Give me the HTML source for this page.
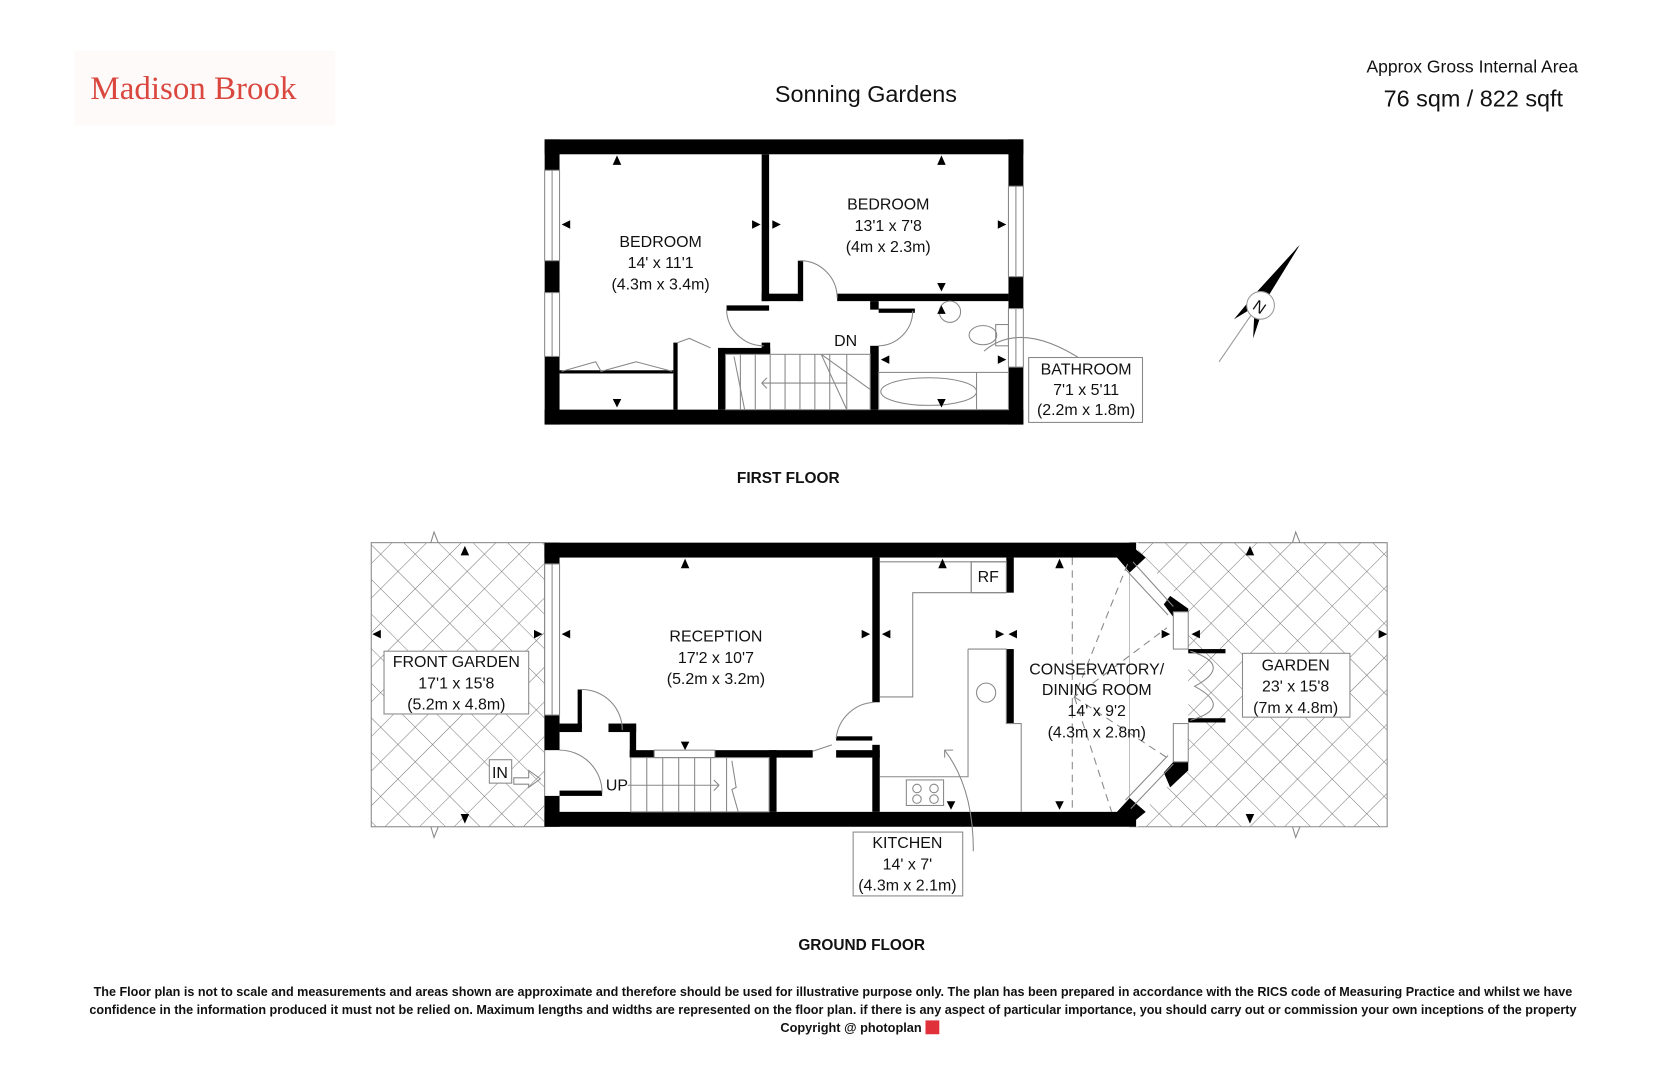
<!DOCTYPE html>
<html><head><meta charset="utf-8"><style>
html,body{margin:0;padding:0;background:#fff;}
svg{display:block}
text{font-family:"Liberation Sans",Arial,sans-serif;fill:#111}
</style></head><body>
<svg width="1668" height="1080" viewBox="0 0 1568 1015" preserveAspectRatio="none" xmlns="http://www.w3.org/2000/svg">
<defs>
<pattern id="h" width="23" height="23" patternUnits="userSpaceOnUse" patternTransform="rotate(45)">
<path d="M0 0H23M0 0V23" stroke="#777" stroke-width="1" fill="none"/>
</pattern>
</defs>
<rect width="1568" height="1015" fill="#fff"/>
<!-- header -->
<rect x="70" y="48" width="245" height="70" fill="#fefafa"/>
<text x="85" y="93" style="font-family:'Liberation Serif',serif;font-size:31px;fill:#d9473f">Madison Brook</text>
<text x="814" y="96" text-anchor="middle" style="font-size:22px">Sonning Gardens</text>
<text x="1384" y="68" text-anchor="middle" style="font-size:16.5px">Approx Gross Internal Area</text>
<text x="1385" y="100" text-anchor="middle" style="font-size:22px">76 sqm / 822 sqft</text>

<!-- compass -->
<g>
<line x1="1146" y1="340" x2="1220" y2="232" stroke="#999" stroke-width="1"/>
<polygon points="1222,230 1190,282 1180,276" fill="#000"/>
<polygon points="1160,300 1190,282 1180,276" fill="#000"/>
<polygon points="1178,318 1190,282 1180,276" fill="#000"/>
<circle cx="1185" cy="287" r="13" fill="#fff" stroke="#999"/>
<text x="1185" y="294" text-anchor="middle" transform="rotate(35 1185 287)" style="font-size:15px">N</text>
</g>

<!-- ===== FIRST FLOOR ===== -->
<g fill="#000">
<rect x="512" y="131" width="450" height="14"/>
<rect x="512" y="385" width="450" height="14"/>
<rect x="512" y="131" width="14" height="268"/>
<rect x="948" y="131" width="14" height="268"/>
</g>
<!-- windows -->
<g fill="#fff" stroke="#888" stroke-width="1">
<rect x="512" y="160" width="14" height="85"/>
<rect x="512" y="275" width="14" height="60"/>
<rect x="948" y="175" width="14" height="85"/>
<rect x="948" y="290" width="14" height="55"/>
</g>
<line x1="519" y1="160" x2="519" y2="245" stroke="#888"/>
<line x1="519" y1="275" x2="519" y2="335" stroke="#888"/>
<line x1="955" y1="175" x2="955" y2="260" stroke="#888"/>
<line x1="955" y1="290" x2="955" y2="345" stroke="#888"/>
<g fill="#000">
<rect x="716" y="145" width="7" height="138"/>
<rect x="716" y="276" width="37" height="7"/>
<rect x="750" y="245" width="5" height="38"/>
<rect x="787" y="276" width="161" height="7"/>
<rect x="683" y="287" width="40" height="5"/>
<rect x="716" y="322" width="8" height="11"/>
<rect x="675" y="327" width="49" height="6"/>
<rect x="675" y="327" width="7" height="58"/>
<rect x="633" y="322" width="4" height="63"/>
<rect x="526" y="348" width="107" height="3"/>
<rect x="818" y="283" width="8" height="8"/>
<rect x="818" y="325" width="8" height="60"/>
<rect x="826" y="290" width="34" height="4"/>
</g>
<g fill="none" stroke="#888" stroke-width="1">
<path d="M752 245 A35 35 0 0 1 787 280"/>
<path d="M683 290 A35 35 0 0 0 718 325"/>
<path d="M858 292 A33 33 0 0 1 826 325"/>
<path d="M528 349 L560 340 L565 349 L598 340 L632 349"/>
<path d="M637 322 L648 318 L668 327"/>
<rect x="682" y="333" width="136" height="52"/>
<path d="M696 333V385M710 333V385M724 333V385M738 333V385M752 333V385M766 333V385M780 333V385M796 333V385"/>
<path d="M716 360H796M716 360l5-5M716 360l5 5"/>
<path d="M772 333 L818 366M772 333 L796 385"/>
<path d="M690 335 L700 385"/>
<rect x="826" y="350" width="122" height="35"/>
<line x1="918" y1="350" x2="918" y2="385"/>
<ellipse cx="873" cy="368" rx="45" ry="13"/>
<circle cx="893" cy="293" r="10"/>
<ellipse cx="924" cy="315" rx="13" ry="9"/>
<rect x="936" y="305" width="12" height="20"/>
<path d="M925 330 Q960 300 1020 340"/>
</g>
<g fill="#000">
<polygon points="576,155 584,155 580,146"/><polygon points="881,155 889,155 885,146"/>
<polygon points="536,207 536,215 528,211"/><polygon points="707,207 707,215 715,211"/><polygon points="726,207 726,215 734,211"/><polygon points="938,207 938,215 946,211"/>
<polygon points="881,266 889,266 885,274"/><polygon points="881,295 889,295 885,287"/>
<polygon points="576,375 584,375 580,383"/><polygon points="881,375 889,375 885,383"/>
<polygon points="836,334 836,342 828,338"/><polygon points="938,334 938,342 946,338"/>
</g>
<g text-anchor="middle" style="font-size:15px">
<text x="621" y="232">BEDROOM</text><text x="621" y="252">14' x 11'1</text><text x="621" y="272">(4.3m x 3.4m)</text>
<text x="835" y="197">BEDROOM</text><text x="835" y="217">13'1 x 7'8</text><text x="835" y="237">(4m x 2.3m)</text>
<text x="795" y="325">DN</text>
</g>
<rect x="967" y="336" width="107" height="61" fill="#fff" stroke="#888"/>
<g text-anchor="middle" style="font-size:15px">
<text x="1021" y="352">BATHROOM</text><text x="1021" y="371">7'1 x 5'11</text><text x="1021" y="390">(2.2m x 1.8m)</text>
</g>
<text x="741" y="454" text-anchor="middle" style="font-size:14.5px;font-weight:bold">FIRST FLOOR</text>

<!-- ===== GROUND FLOOR ===== -->
<rect x="349" y="510" width="163" height="267" fill="url(#h)" stroke="#888"/>
<path d="M1062 510 H1304 V777 H1062 Z" fill="url(#h)" stroke="#888"/>
<path d="M1062 510 L1062 524 L1103 572 L1103 716 L1062 763 Z" fill="#fff"/>
<path d="M1060 510 L1117 570 L1117 720 L1060 777 L1070 777 L1070 510Z" fill="#fff"/>
<g fill="#000">
<rect x="512" y="510" width="556" height="14"/>
<rect x="512" y="763" width="556" height="14"/>
<polygon points="1060,510 1077,524 1062,538 1050,524"/>
<polygon points="1100,560 1117,572 1117,580 1103,580 1094,568"/>
<polygon points="1103,716 1117,716 1117,724 1100,740 1094,726"/>
<polygon points="1060,777 1077,763 1062,750 1050,763"/>
<rect x="512" y="510" width="14" height="20"/>
<rect x="512" y="672" width="14" height="33"/>
<rect x="512" y="748" width="14" height="29"/>
<rect x="820" y="524" width="7" height="136"/>
<rect x="820" y="700" width="7" height="63"/>
<rect x="946" y="524" width="7" height="33"/>
<rect x="946" y="610" width="7" height="70"/>
<rect x="543" y="648" width="4" height="37"/>
<rect x="526" y="680" width="21" height="8"/>
<rect x="572" y="680" width="26" height="8"/>
<rect x="592" y="680" width="6" height="32"/>
<rect x="592" y="705" width="23" height="7"/>
<rect x="672" y="705" width="92" height="7"/>
<rect x="786" y="705" width="41" height="7"/>
<rect x="786" y="692" width="34" height="4"/>
<rect x="723" y="705" width="7" height="58"/>
<rect x="526" y="743" width="40" height="5"/>
<rect x="1117" y="610" width="35" height="4"/>
<rect x="1117" y="675" width="35" height="4"/>
</g>
<g fill="none" stroke="#888" stroke-width="1">
<rect x="512" y="530" width="14" height="142" fill="#fff"/>
<line x1="519" y1="530" x2="519" y2="672"/>
<path d="M1065 528 L1103 570 M1058 535 L1098 578"/>
<path d="M1063 760 L1103 718 M1058 752 L1098 710"/>
<rect x="1103" y="575" width="14" height="35" fill="#fff"/>
<rect x="1103" y="680" width="14" height="36" fill="#fff"/>
<path d="M1119 612 Q1160 625 1123 645 Q1160 665 1119 677"/>
<path d="M547 648 A38 38 0 0 1 585 686"/>
<path d="M526 705 A40 40 0 0 1 566 745"/>
<path d="M822 660 A38 38 0 0 0 786 694"/>
<path d="M764 706 L782 700"/>
<rect x="615" y="705" width="57" height="7"/>
<rect x="593" y="712" width="130" height="51"/>
<path d="M608 712V763M623 712V763M638 712V763M653 712V763M668 712V763M683 712V763"/>
<path d="M590 738H676M676 738l-5-5M676 738l-5 5"/>
<path d="M688 715 L692 740 L688 742 L694 763"/>
<path d="M827 528 H946 M913 528 V557 H946 M827 655 H858 V557 H913"/>
<path d="M910 610 H946 V680 H960 V763 M910 610 V730 H827"/>
<circle cx="927" cy="651" r="9"/>
<rect x="852" y="733" width="35" height="24"/>
<circle cx="862" cy="741" r="4"/><circle cx="878" cy="741" r="4"/><circle cx="862" cy="751" r="4"/><circle cx="878" cy="751" r="4"/>
<path d="M888 712 V705 H896 M888 705 Q915 740 915 800"/>
<path d="M483 731 H497 V724 L508 732 L497 740 V737 H483Z"/>
<path d="M405 510 L408 500 L412 510"/><path d="M1215 510 L1218 500 L1222 510"/>
<path d="M405 777 L408 787 L412 777"/><path d="M1215 777 L1218 787 L1222 777"/>
</g>
<path d="M1008 524 V763" stroke="#888" stroke-dasharray="7 5" fill="none"/>
<path d="M1060 530 L1010 655 L1097 590 M1010 655 L1097 712 M1010 655 L1045 763" stroke="#888" stroke-dasharray="7 5" fill="none"/>
<rect x="913" y="528" width="33" height="29" fill="none" stroke="#888"/>
<g fill="#000">
<polygon points="433,522 441,522 437,513"/><polygon points="640,534 648,534 644,525"/><polygon points="882,534 890,534 886,525"/><polygon points="992,534 1000,534 996,525"/><polygon points="1171,522 1179,522 1175,513"/>
<polygon points="433,765 441,765 437,774"/><polygon points="640,697 648,697 644,705"/><polygon points="890,753 898,753 894,761"/><polygon points="992,753 1000,753 996,761"/><polygon points="1171,765 1179,765 1175,774"/>
<polygon points="358,592 358,600 350,596"/><polygon points="502,592 502,600 510,596"/><polygon points="536,592 536,600 528,596"/>
<polygon points="810,592 810,600 818,596"/><polygon points="837,592 837,600 829,596"/><polygon points="936,592 936,600 944,596"/><polygon points="956,592 956,600 948,596"/>
<polygon points="1092,592 1092,600 1100,596"/><polygon points="1128,592 1128,600 1120,596"/><polygon points="1296,592 1296,600 1304,596"/>
</g>
<rect x="361" y="612" width="136" height="59" fill="#fff" stroke="#888"/>
<rect x="460" y="714" width="21" height="22" fill="#fff" stroke="#888"/>
<rect x="1168" y="614" width="101" height="60" fill="#fff" stroke="#888"/>
<rect x="802" y="782" width="103" height="60" fill="#fff" stroke="#888"/>
<g text-anchor="middle" style="font-size:15px">
<text x="429" y="627">FRONT GARDEN</text><text x="429" y="647">17'1 x 15'8</text><text x="429" y="667">(5.2m x 4.8m)</text>
<text x="470" y="731">IN</text>
<text x="580" y="743">UP</text>
<text x="673" y="603">RECEPTION</text><text x="673" y="623">17'2 x 10'7</text><text x="673" y="643">(5.2m x 3.2m)</text>
<text x="929" y="547">RF</text>
<text x="1031" y="634">CONSERVATORY/</text><text x="1031" y="653">DINING ROOM</text><text x="1031" y="673">14' x 9'2</text><text x="1031" y="693">(4.3m x 2.8m)</text>
<text x="1218" y="630">GARDEN</text><text x="1218" y="650">23' x 15'8</text><text x="1218" y="670">(7m x 4.8m)</text>
<text x="853" y="797">KITCHEN</text><text x="853" y="817">14' x 7'</text><text x="853" y="837">(4.3m x 2.1m)</text>
</g>
<text x="810" y="893" text-anchor="middle" style="font-size:14.5px;font-weight:bold">GROUND FLOOR</text>

<!-- footer -->
<g style="font-family:'Liberation Sans Narrow','Liberation Sans',sans-serif;font-size:12px;font-weight:bold" text-anchor="middle">
<text x="783" y="936" textLength="1390" lengthAdjust="spacingAndGlyphs">The Floor plan is not to scale and measurements and areas shown are approximate and therefore should be used for illustrative purpose only. The plan has been prepared in accordance with the RICS code of Measuring Practice and whilst we have</text>
<text x="783" y="953" textLength="1398" lengthAdjust="spacingAndGlyphs">confidence in the information produced it must not be relied on. Maximum  lengths and widths are represented on the floor plan. if there is any aspect of particular importance, you should carry out or commission your own inceptions of the property</text>
<text x="800" y="970">Copyright @ photoplan</text>
</g>
<rect x="870" y="959" width="13" height="13" fill="#e0303a"/>
</svg>
</body></html>
